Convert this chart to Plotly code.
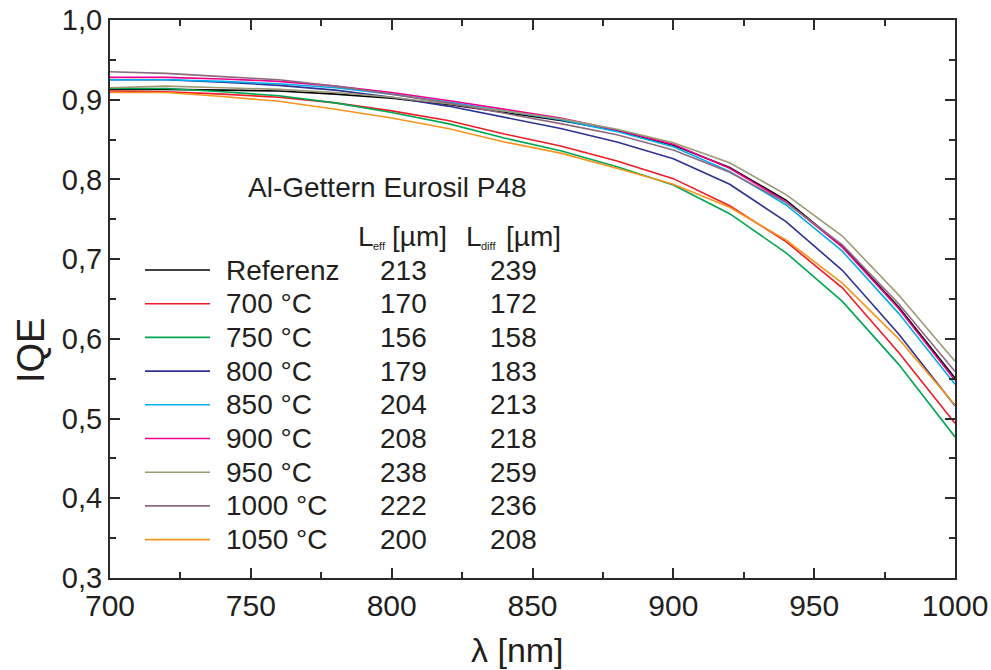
import plotly.graph_objects as go

wavelength = [700, 720, 740, 760, 780, 800, 820, 840, 860, 880, 900, 920, 940, 960, 980, 1000]

names = ["Referenz", "700 °C", "750 °C", "800 °C", "850 °C", "900 °C", "950 °C", "1000 °C", "1050 °C"]
l_eff = [213, 170, 156, 179, 204, 208, 238, 222, 200]
l_diff = [239, 172, 158, 183, 213, 218, 259, 236, 208]
colors = ["#000000", "#ED1C24", "#00A651", "#2E3192", "#00AEEF", "#EC008C", "#9C9A74", "#8E6A80", "#F7941D"]

iqe_ref = [0.913, 0.913, 0.912, 0.911, 0.907, 0.902, 0.894, 0.884, 0.874, 0.861, 0.843, 0.815, 0.774, 0.716, 0.640, 0.551]
iqe_700 = [0.911, 0.910, 0.907, 0.903, 0.896, 0.886, 0.874, 0.857, 0.842, 0.823, 0.801, 0.767, 0.722, 0.664, 0.583, 0.494]
iqe_750 = [0.914, 0.914, 0.910, 0.905, 0.896, 0.884, 0.870, 0.852, 0.836, 0.816, 0.793, 0.757, 0.708, 0.647, 0.568, 0.477]
iqe_800 = [0.925, 0.925, 0.922, 0.918, 0.912, 0.903, 0.892, 0.878, 0.864, 0.847, 0.826, 0.794, 0.747, 0.686, 0.606, 0.516]
iqe_850 = [0.925, 0.925, 0.923, 0.920, 0.915, 0.907, 0.897, 0.886, 0.875, 0.860, 0.841, 0.810, 0.768, 0.710, 0.632, 0.543]
iqe_900 = [0.928, 0.928, 0.926, 0.923, 0.917, 0.909, 0.899, 0.888, 0.877, 0.862, 0.844, 0.814, 0.772, 0.715, 0.638, 0.548]
iqe_950 = [0.915, 0.917, 0.915, 0.913, 0.909, 0.903, 0.895, 0.886, 0.876, 0.863, 0.846, 0.821, 0.781, 0.729, 0.655, 0.572]
iqe_1000 = [0.935, 0.933, 0.929, 0.925, 0.917, 0.907, 0.896, 0.883, 0.870, 0.856, 0.837, 0.809, 0.771, 0.718, 0.644, 0.559]
iqe_1050 = [0.909, 0.909, 0.904, 0.898, 0.888, 0.877, 0.864, 0.847, 0.833, 0.814, 0.794, 0.765, 0.724, 0.670, 0.600, 0.517]

series = [iqe_ref, iqe_700, iqe_750, iqe_800, iqe_850, iqe_900, iqe_950, iqe_1000, iqe_1050]

header_main = ["L", "L"]
header_sub = ["eff", "diff"]
header_unit = "[µm]"
legend_title = "Al-Gettern Eurosil P48"

# layout geometry (pixels)
W, H = 991, 670
ML, MR, MT, MB = 110, 36, 20, 92
PW, PH = W - ML - MR, H - MT - MB


def xp(px):
    return (px - ML) / PW


def yp(py):
    return (H - MB - py) / PH


FONT = "Liberation Sans, Arial, sans-serif"
TXT = "#231F20"


def label(text, px, py, size, anchor="left", angle=0):
    return dict(text=text, xref="paper", yref="paper", x=xp(px), y=yp(py),
                xanchor=anchor, yanchor="middle", showarrow=False, textangle=angle,
                font=dict(size=size, family=FONT, color=TXT))


fig = go.Figure()
for name, ys, c in zip(names, series, colors):
    fig.add_trace(go.Scatter(x=wavelength, y=ys, mode="lines", name=name,
                             line=dict(color=c, width=1.6), showlegend=False))

shapes = []
annotations = []

# legend block
row0, dy = 270, 33.7
for i, (name, le, ld, c) in enumerate(zip(names, l_eff, l_diff, colors)):
    y = row0 + i * dy
    shapes.append(dict(type="line", xref="paper", yref="paper",
                       x0=xp(145), x1=xp(210), y0=yp(y), y1=yp(y),
                       line=dict(color=c, width=1.6)))
    annotations.append(label(name, 224, y, 28))
    annotations.append(label(str(le), 403, y, 28, "center"))
    annotations.append(label(str(ld), 513, y, 28, "center"))

# column headers
for lx, main, sub in zip([356, 464], header_main, header_sub):
    annotations.append(label(main, lx, 237, 28))
    annotations.append(label(sub, lx + 15, 246, 11))
    annotations.append(label(header_unit, lx + (34 if sub == "eff" else 40), 237, 28))

annotations.append(label(legend_title, 246, 188, 28))

# axis titles
annotations.append(label("IQE", 31, 351, 38, "center", -90))
annotations.append(label("λ [nm]", 517, 650, 34, "center"))

axis_common = dict(showline=True, linecolor="#2b2b2b", linewidth=2, mirror="allticks",
                   ticks="inside", ticklen=10, tickwidth=2, tickcolor="#2b2b2b",
                   showgrid=False, zeroline=False, ticklabeloverflow="allow",
                   automargin=False)

fig.update_layout(
    width=W, height=H,
    margin=dict(l=ML, r=MR, t=MT, b=MB),
    paper_bgcolor="white", plot_bgcolor="white",
    separators=",.",
    shapes=shapes, annotations=annotations,
    xaxis=dict(range=[700, 1000], tick0=700, dtick=50,
               tickfont=dict(size=30, family=FONT, color=TXT),
               minor=dict(ticks="inside", ticklen=6, tickwidth=1.5, tickcolor="#2b2b2b", dtick=25, tick0=700),
               **axis_common),
    yaxis=dict(range=[0.3, 1.0], tick0=0.3, dtick=0.1, tickformat=".1f",
               tickfont=dict(size=29, family=FONT, color=TXT),
               minor=dict(ticks="inside", ticklen=6, tickwidth=1.5, tickcolor="#2b2b2b", dtick=0.05, tick0=0.3),
               **axis_common),
)

fig.write_html("out.html")
